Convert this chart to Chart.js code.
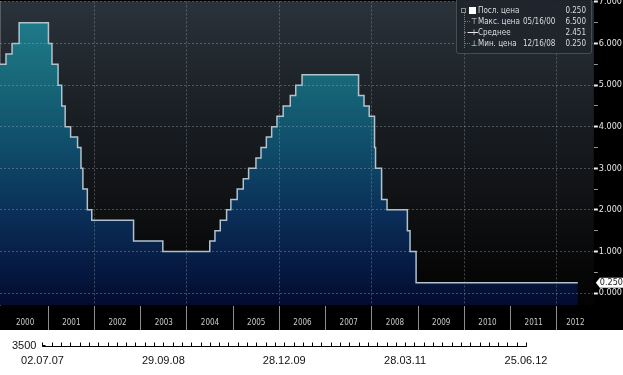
<!DOCTYPE html>
<html>
<head>
<meta charset="utf-8">
<script src="https://cdn.jsdelivr.net/npm/chart.js@4.4.0/dist/chart.umd.min.js"></script>
<style>
  html, body { margin: 0; padding: 0; width: 623px; height: 375px; overflow: hidden; background: #fff; }
  #top { position: absolute; left: 0; top: 0; width: 623px; height: 330px; background: #000; overflow: hidden; }
  #main { position: absolute; left: 0; top: -5px; }
  #lower { position: absolute; left: 0; top: 330px; }
  #legend {
    position: absolute; left: 456px; top: -3px; width: 134px; height: 55px;
    background: rgba(31, 37, 43, 0.95); border: 1px solid #464d55; border-radius: 3px;
    font-family: 'DejaVu Sans Condensed', 'DejaVu Sans', sans-serif; font-size: 8px; color: #dcdcdc;
  }
  #legend .row { position: absolute; left: 0; width: 134px; height: 11px; line-height: 11px; white-space: nowrap; }
  #legend .name { position: absolute; left: 21px; }
  #legend .date { position: absolute; left: 66px; }
  #legend .val { position: absolute; right: 5px; }
  #legend .ico { position: absolute; left: 13px; width: 8px; text-align: center; color: #e8e8e8; }
  .tree { position: absolute; left: 7px; top: 15px; width: 0; height: 35px; border-left: 1px dotted #7a7a7a; }
  .branch { position: absolute; left: 7px; width: 6px; height: 0; border-top: 1px dotted #7a7a7a; }
</style>
</head>
<body>
<div id="top">
  <canvas id="main" width="623" height="335"></canvas>
  <div id="legend"></div>
</div>
<canvas id="lower" width="623" height="45"></canvas>
<script>
// fed funds target rate, step changes
const rateDates = [
  '1999-11-16', '2000-02-02', '2000-03-21', '2000-05-16',
  '2001-01-03', '2001-01-31', '2001-03-20', '2001-04-18', '2001-05-15', '2001-06-27',
  '2001-08-21', '2001-09-17', '2001-10-02', '2001-11-06', '2001-12-11',
  '2002-11-06', '2003-06-25',
  '2004-06-30', '2004-08-10', '2004-09-21', '2004-11-10', '2004-12-14',
  '2005-02-02', '2005-03-22', '2005-05-03', '2005-06-30', '2005-08-09', '2005-09-20', '2005-11-01', '2005-12-13',
  '2006-01-31', '2006-03-28', '2006-05-10', '2006-06-29',
  '2007-09-18', '2007-10-31', '2007-12-11',
  '2008-01-22', '2008-01-30', '2008-03-18', '2008-04-30', '2008-10-08', '2008-10-29', '2008-12-16',
  '2012-06-15'
];
const rateValues = [
  5.50, 5.75, 6.00, 6.50,
  6.00, 5.50, 5.00, 4.50, 4.00, 3.75,
  3.50, 3.00, 2.50, 2.00, 1.75,
  1.25, 1.00,
  1.25, 1.50, 1.75, 2.00, 2.25,
  2.50, 2.75, 3.00, 3.25, 3.50, 3.75, 4.00, 4.25,
  4.50, 4.75, 5.00, 5.25,
  4.75, 4.50, 4.25,
  3.50, 3.00, 2.25, 2.00, 1.50, 1.00, 0.25,
  0.25
];
const yearLabels = ['2000', '2001', '2002', '2003', '2004', '2005', '2006', '2007', '2008', '2009', '2010', '2011', '2012'];

const legendNames = ['Посл. цена', 'Макс. цена', 'Среднее', 'Мин. цена'];
const legendDates = ['', '05/16/00', '', '12/16/08'];
const legendValues = ['0.250', '6.500', '2.451', '0.250'];

// second (cut off) axis under the chart
const lowerDates = ['02.07.07', '29.09.08', '28.12.09', '28.03.11', '25.06.12'];
const lowerValues = [3500];

const xMin = 1999.958, xMax = 2012.80;
const yMin = -0.288, yMax = 7.014;

function decimalYear(s) {
  const d = new Date(s + 'T00:00:00Z');
  const y = d.getUTCFullYear();
  const a = Date.UTC(y, 0, 1), b = Date.UTC(y + 1, 0, 1);
  return y + (d.getTime() - a) / (b - a);
}

const points = rateDates.map((d, i) => ({ x: decimalYear(d), y: rateValues[i] }));

// year separators on boundaries, year names in the middle of each year
const xTicks = [], xTickLabels = [];
yearLabels.forEach((lab, i) => {
  const y = Number(lab);
  if (i > 0) { xTicks.push(y); xTickLabels.push(''); }
  const lo = Math.max(y, xMin), hi = Math.min(y + 1, xMax);
  xTicks.push((lo + hi) / 2); xTickLabels.push(lab);
});

Chart.defaults.font.family = "'DejaVu Sans Condensed', 'DejaVu Sans', sans-serif";

const isInt = v => Math.abs(v - Math.round(v)) < 1e-6;
const gridCol = 'rgba(165, 175, 185, 0.38)';

const background = {
  id: 'background',
  beforeDraw(chart) {
    const a = chart.chartArea, ctx = chart.ctx;
    const g = ctx.createLinearGradient(0, a.top, 0, a.bottom);
    g.addColorStop(0, '#2a323b');
    g.addColorStop(0.3, '#1c2227');
    g.addColorStop(0.6, '#121417');
    g.addColorStop(0.9, '#060606');
    g.addColorStop(1, '#030303');
    ctx.save();
    ctx.fillStyle = g;
    ctx.fillRect(a.left, a.top, a.right - a.left, a.bottom - a.top);
    ctx.restore();
  }
};

const lastValueTag = {
  id: 'lastValueTag',
  afterDraw(chart) {
    const v = rateValues[rateValues.length - 1];
    const y = chart.scales.y.getPixelForValue(v);
    const x = chart.chartArea.right + 2;
    const ctx = chart.ctx;
    ctx.save();
    ctx.fillStyle = '#ffffff';
    ctx.beginPath();
    ctx.moveTo(x, y);
    ctx.lineTo(x + 4, y - 5);
    ctx.lineTo(x + 29, y - 5);
    ctx.lineTo(x + 29, y + 5);
    ctx.lineTo(x + 4, y + 5);
    ctx.closePath();
    ctx.fill();
    ctx.fillStyle = '#1a1a1a';
    ctx.font = "9px 'DejaVu Sans Condensed', 'DejaVu Sans'";
    ctx.textBaseline = 'middle';
    ctx.fillText(v.toFixed(3), x + 4, y + 0.5);
    ctx.restore();
  }
};

new Chart(document.getElementById('main'), {
  type: 'line',
  data: {
    datasets: [{
      data: points,
      stepped: 'before',
      fill: 'start',
      borderColor: '#b2c2ce',
      borderWidth: 1.5,
      pointRadius: 0,
      backgroundColor: (c) => {
        const a = c.chart.chartArea;
        if (!a) return '#0f4a68';
        const g = c.chart.ctx.createLinearGradient(0, a.top, 0, a.bottom);
        g.addColorStop(0, '#21808e');
        g.addColorStop(0.24, '#186a7a');
        g.addColorStop(0.5, '#0f4a68');
        g.addColorStop(0.72, '#0a2c56');
        g.addColorStop(1, '#030b30');
        return g;
      }
    }]
  },
  options: {
    responsive: false,
    animation: false,
    layout: { padding: 0 },
    plugins: { legend: { display: false }, tooltip: { enabled: false } },
    scales: {
      x: {
        type: 'linear',
        min: xMin,
        max: xMax,
        afterBuildTicks: (s) => { s.ticks = xTicks.map(v => ({ value: v })); },
        afterFit: (s) => { s.height = 25; },
        ticks: {
          autoSkip: false,
          maxRotation: 0,
          padding: -12,
          color: '#c9c9c9',
          font: { size: 8 },
          callback: (v, i) => xTickLabels[i]
        },
        grid: {
          z: 1,
          tickLength: 25,
          color: (c) => {
            const v = c.tick && c.tick.value;
            return v !== undefined && isInt(v) && Math.round(v) % 2 === 0 ? gridCol : 'transparent';
          },
          tickColor: (c) => (c.tick && isInt(c.tick.value) ? '#8e8e8e' : 'transparent')
        },
        border: { display: true, color: '#6c6c6c', width: 1, dash: [2, 2] }
      },
      y: {
        position: 'right',
        min: yMin,
        max: yMax,
        ticks: {
          stepSize: 0.5,
          includeBounds: false,
          padding: 1,
          color: '#e6e6e6',
          font: { size: 9 },
          callback: (v) => (isInt(v) ? Number(v).toFixed(3) : '')
        },
        grid: {
          z: 1,
          tickLength: 4,
          color: (c) => (c.tick && isInt(c.tick.value) ? gridCol : 'transparent'),
          tickColor: (c) => (c.tick && isInt(c.tick.value) ? '#f0f0f0' : '#9a9a9a'),
          tickWidth: (c) => (c.tick && isInt(c.tick.value) ? 2 : 1)
        },
        border: { display: true, color: '#8a8a8a', width: 1, dash: [2, 2] }
      }
    }
  },
  plugins: [background, lastValueTag]
});

// legend box
const legend = document.getElementById('legend');
const icons = ['', '\u22A4', '+', '\u22A5'];
let html = '<div class="tree"></div>';
legendNames.forEach((name, i) => {
  const top = 7 + i * 11;
  if (i > 0) html += '<div class="branch" style="top:' + (top + 5) + 'px"></div>';
  let ico;
  if (i === 0) {
    ico = '<span style="position:absolute;left:4px;top:3px;width:3px;height:3px;border:1px solid #8a8a8a;"></span>' +
          '<span style="position:absolute;left:12px;top:2px;width:7px;height:7px;background:#fff;"></span>';
  } else if (i === 2) {
    ico = '<span style="position:absolute;left:11px;top:5px;width:10px;height:0;border-top:1px solid #e8e8e8;"></span>' +
          '<span class="ico">' + icons[i] + '</span>';
  } else {
    ico = '<span class="ico">' + icons[i] + '</span>';
  }
  html += '<div class="row" style="top:' + top + 'px">' + ico +
    '<span class="name">' + name + '</span>' +
    (legendDates[i] ? '<span class="date">' + legendDates[i] + '</span>' : '') +
    '<span class="val">' + legendValues[i] + '</span></div>';
});
legend.innerHTML = html;

// lower axis strip
const lowerStep = 5, lowerPer = 65;
const lowerMax = lowerPer * (lowerDates.length - 1);

// axis line, small upward ticks and the long date lines
const lowerMarks = {
  id: 'lowerMarks',
  afterDraw(chart) {
    const sx = chart.scales.x, a = chart.chartArea, ctx = chart.ctx;
    const bottom = Math.round(a.bottom) + 0.5;
    const top = Math.round(a.top) + 0.5;
    ctx.save();
    ctx.lineWidth = 1;
    for (let v = lowerPer; v < lowerMax; v += lowerPer) {
      const px = Math.round(sx.getPixelForValue(v)) + 0.5;
      ctx.strokeStyle = '#c4c4c4';
      ctx.beginPath(); ctx.moveTo(px, top); ctx.lineTo(px, bottom); ctx.stroke();
    }
    ctx.strokeStyle = '#000';
    ctx.beginPath();
    for (let v = 0; v <= lowerMax; v += lowerStep) {
      const px = Math.round(sx.getPixelForValue(v)) + 0.5;
      ctx.moveTo(px, bottom); ctx.lineTo(px, bottom - 4);
    }
    const l = Math.round(a.left) + 0.5, r = Math.round(sx.getPixelForValue(lowerMax)) + 0.5;
    ctx.moveTo(l, bottom); ctx.lineTo(r, bottom);
    ctx.moveTo(l, top + 2); ctx.lineTo(l, bottom);
    ctx.moveTo(l, top + 2); ctx.lineTo(l + 3, top + 2);
    ctx.moveTo(r, top); ctx.lineTo(r, bottom);
    ctx.stroke();
    ctx.restore();
  }
};

new Chart(document.getElementById('lower'), {
  type: 'line',
  data: { datasets: [{ data: [] }] },
  options: {
    responsive: false,
    animation: false,
    layout: { padding: { left: 6, right: 97, top: 0, bottom: 0 } },
    plugins: { legend: { display: false }, tooltip: { enabled: false } },
    scales: {
      x: {
        type: 'linear',
        min: 0,
        max: lowerMax,
        afterFit: (s) => { s.height = 29; },
        ticks: {
          stepSize: lowerStep,
          autoSkip: false,
          maxRotation: 0,
          padding: 8,
          color: '#111',
          font: { family: "'Liberation Sans', Arial, sans-serif", size: 11 },
          callback: (v) => (v % lowerPer === 0 ? lowerDates[v / lowerPer] : '')
        },
        grid: { display: false, drawTicks: false },
        border: { display: false }
      },
      y: {
        min: lowerValues[0],
        max: lowerValues[0] + 100,
        afterBuildTicks: (s) => { s.ticks = lowerValues.map(v => ({ value: v })); },
        ticks: {
          padding: 6,
          color: '#111',
          font: { family: "'Liberation Sans', Arial, sans-serif", size: 11 },
          callback: (v) => String(v)
        },
        grid: { display: false, drawTicks: false },
        border: { display: false }
      }
    }
  },
  plugins: [lowerMarks]
});
</script>
</body>
</html>
